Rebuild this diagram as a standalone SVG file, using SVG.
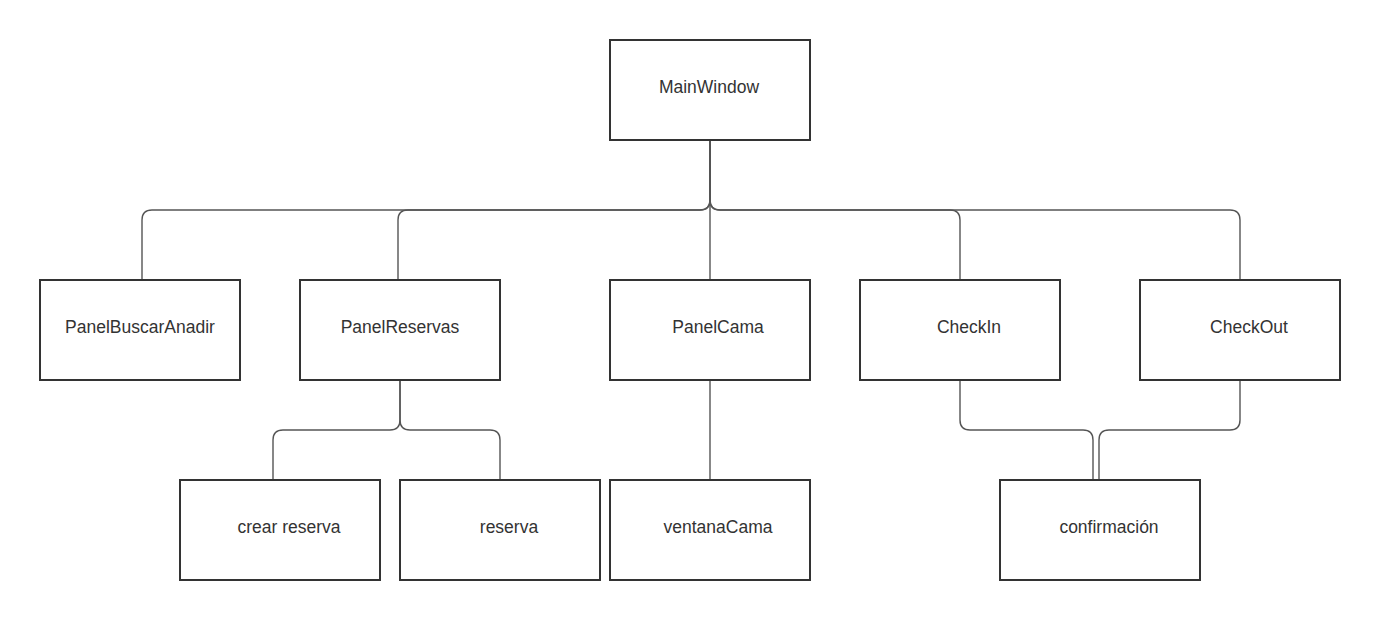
<svg xmlns="http://www.w3.org/2000/svg" width="1380" height="620" viewBox="0 0 1380 620">
<style>
.box{fill:#fff;stroke:#333;stroke-width:2}
.lbl{font-family:"Liberation Sans",Arial,sans-serif;font-size:17.5px;fill:#333;text-anchor:middle}
.c{fill:none;stroke:#555;stroke-width:1.4}
</style>
<rect width="1380" height="620" fill="#fff"/>
<g id="connectors">
<path class="c" d="M710,140 L710,200 Q710,210 700,210 L152,210 Q142,210 142,220 L142,280"/>
<path class="c" d="M710,140 L710,200 Q710,210 700,210 L408,210 Q398,210 398,220 L398,280"/>
<path class="c" d="M710,140 L710,280"/>
<path class="c" d="M710,140 L710,200 Q710,210 720,210 L950,210 Q960,210 960,220 L960,280"/>
<path class="c" d="M710,140 L710,200 Q710,210 720,210 L1230,210 Q1240,210 1240,220 L1240,280"/>
<path class="c" d="M400,380 L400,420 Q400,430 390,430 L283,430 Q273,430 273,440 L273,480"/>
<path class="c" d="M400,380 L400,420 Q400,430 410,430 L490,430 Q500,430 500,440 L500,480"/>
<path class="c" d="M710,380 L710,480"/>
<path class="c" d="M960,380 L960,420 Q960,430 970,430 L1083,430 Q1093,430 1093,440 L1093,480"/>
<path class="c" d="M1240,380 L1240,420 Q1240,430 1230,430 L1109,430 Q1099,430 1099,440 L1099,480"/>
</g>
<g id="MainWindow"><rect class="box" x="610" y="40" width="200" height="100"/><text class="lbl" x="709" y="93">MainWindow</text></g>
<g id="PanelBuscarAnadir"><rect class="box" x="40" y="280" width="200" height="100"/><text class="lbl" x="140" y="333">PanelBuscarAnadir</text></g>
<g id="PanelReservas"><rect class="box" x="300" y="280" width="200" height="100"/><text class="lbl" x="400" y="333">PanelReservas</text></g>
<g id="PanelCama"><rect class="box" x="610" y="280" width="200" height="100"/><text class="lbl" x="718" y="333">PanelCama</text></g>
<g id="CheckIn"><rect class="box" x="860" y="280" width="200" height="100"/><text class="lbl" x="969" y="333">CheckIn</text></g>
<g id="CheckOut"><rect class="box" x="1140" y="280" width="200" height="100"/><text class="lbl" x="1249" y="333">CheckOut</text></g>
<g id="crearReserva"><rect class="box" x="180" y="480" width="200" height="100"/><text class="lbl" x="289" y="533">crear reserva</text></g>
<g id="reserva"><rect class="box" x="400" y="480" width="200" height="100"/><text class="lbl" x="509" y="533">reserva</text></g>
<g id="ventanaCama"><rect class="box" x="610" y="480" width="200" height="100"/><text class="lbl" x="718" y="533">ventanaCama</text></g>
<g id="confirmacion"><rect class="box" x="1000" y="480" width="200" height="100"/><text class="lbl" x="1109" y="533">confirmación</text></g>
</svg>
